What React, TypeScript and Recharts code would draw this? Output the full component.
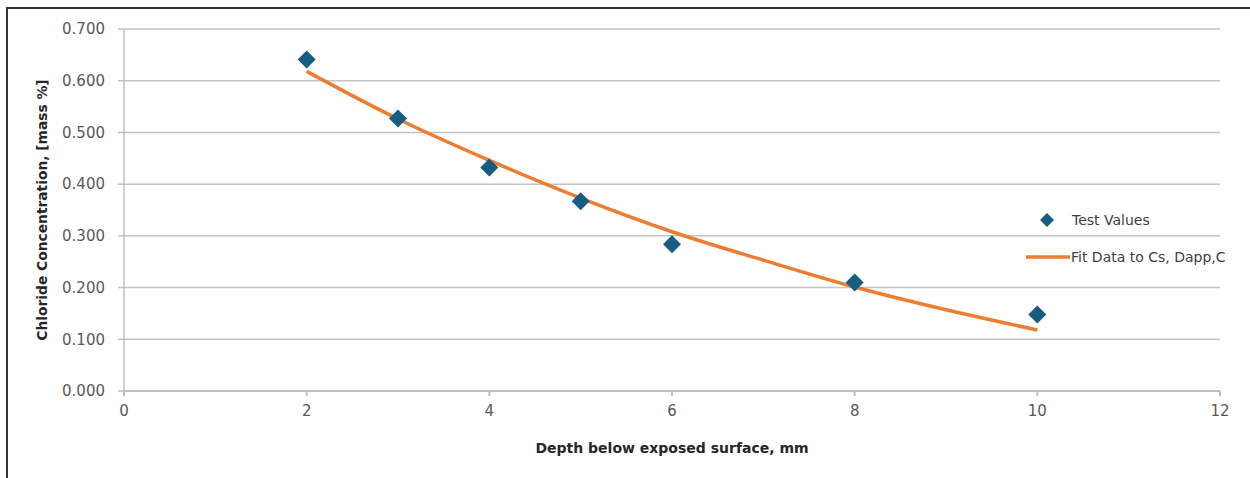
import React from 'react';
import { ComposedChart, Line, Scatter, XAxis, YAxis, CartesianGrid } from 'recharts';

// measured chloride values
const testDepths = [2, 3, 4, 5, 6, 8, 10];
const testValues = [0.641, 0.527, 0.432, 0.367, 0.284, 0.21, 0.148];

// fitted curve (Cs, Dapp, C), read at each mm
const fitDepths = [2, 3, 4, 5, 6, 7, 8, 9, 10];
const fitValues = [0.618, 0.526, 0.446, 0.373, 0.308, 0.253, 0.201, 0.157, 0.118];

const xTicks = [0, 2, 4, 6, 8, 10, 12];
const yTicks = [0, 0.1, 0.2, 0.3, 0.4, 0.5, 0.6, 0.7];

const testData = testDepths.map((x, i) => ({ x, y: testValues[i] }));
const fitData = fitDepths.map((x, i) => ({ x, y: fitValues[i] }));

const BLUE = '#175d82';
const ORANGE = '#ed7d31';
const FONT = '"DejaVu Sans", sans-serif';

const Diamond = (props: any) => {
  const { cx, cy } = props;
  if (cx == null || cy == null) return null;
  const r = 9;
  return <polygon points={`${cx},${cy - r} ${cx + r},${cy} ${cx},${cy + r} ${cx - r},${cy}`} fill={BLUE} />;
};

// legend drawn beside the plot, over the grid
const LegendBox = () => (
  <svg width={225} height={70} style={{ position: 'absolute', left: 1026, top: 210, overflow: 'visible' }}>
    <polygon points="21,3 28,10 21,17 14,10" fill={BLUE} />
    <text x={46} y={10} dominantBaseline="central" fontSize={14} fill="#404040" fontFamily={FONT}>Test Values</text>
    <line x1={0} x2={44} y1={47} y2={47} stroke={ORANGE} strokeWidth={3.5} />
    <text x={45} y={47} dominantBaseline="central" fontSize={14} fill="#404040" fontFamily={FONT}>Fit Data to Cs, Dapp,C</text>
  </svg>
);

export default function App() {
  return (
    <div style={{ position: 'absolute', left: 0, top: 0, width: 1250, height: 478, background: '#fff', fontFamily: FONT }}>
      <ComposedChart width={1250} height={478} margin={{ top: 29, right: 30, bottom: 22, left: 24 }}>
        <CartesianGrid horizontal vertical={false} stroke="#c4c4c4" strokeWidth={1.5} />
        <XAxis
          dataKey="x"
          type="number"
          domain={[0, 12]}
          ticks={xTicks}
          height={65}
          tickSize={5}
          tickMargin={9}
          stroke="#bfbfbf"
          strokeWidth={2}
          tick={{ fill: '#595959', fontSize: 15, fontFamily: FONT }}
          label={{ value: 'Depth below exposed surface, mm', position: 'insideBottom', offset: 3, fill: '#262626', fontSize: 14, fontWeight: 'bold', fontFamily: FONT }}
        />
        <YAxis
          dataKey="y"
          type="number"
          domain={[0, 0.7]}
          ticks={yTicks}
          width={100}
          tickSize={6}
          tickMargin={13}
          stroke="#bfbfbf"
          strokeWidth={1.5}
          tickFormatter={(v: number) => v.toFixed(3)}
          tick={{ fill: '#595959', fontSize: 15, fontFamily: FONT }}
          label={{ value: 'Chloride Concentration, [mass %]', angle: -90, position: 'insideLeft', offset: 18, style: { textAnchor: 'middle' }, fill: '#262626', fontSize: 13.8, fontWeight: 'bold', fontFamily: FONT }}
        />
        <Line data={fitData} dataKey="y" name="Fit Data to Cs, Dapp,C" type="monotone" stroke={ORANGE} strokeWidth={3.5} dot={false} isAnimationActive={false} />
        <Scatter data={testData} dataKey="y" name="Test Values" fill={BLUE} shape={<Diamond />} isAnimationActive={false} />
      </ComposedChart>
      <LegendBox />
      <div style={{ position: 'absolute', left: 6, top: 7, width: 1244, height: 471, borderTop: '2px solid #333', borderLeft: '2px solid #333', pointerEvents: 'none' }} />
    </div>
  );
}
